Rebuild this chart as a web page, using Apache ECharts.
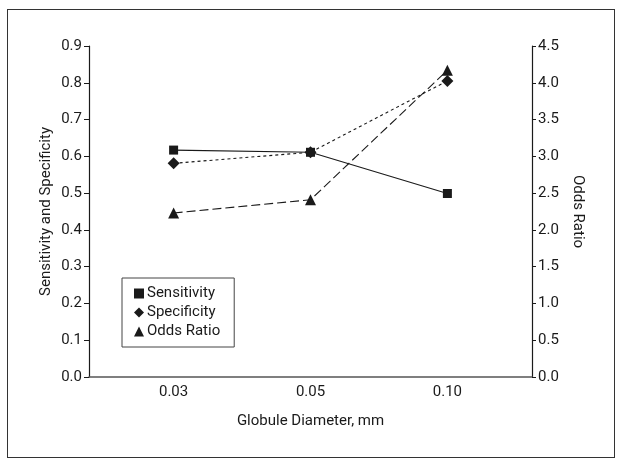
<!DOCTYPE html>
<html><head><meta charset="utf-8">
<script src="https://cdn.jsdelivr.net/npm/echarts@6/dist/echarts.min.js"></script>
<style>html,body{margin:0;padding:0;background:#fff}#c{width:624px;height:466px}
#frame{position:absolute;left:7px;top:9px;width:606px;height:447px;border:1.5px solid #333;pointer-events:none}</style>
</head><body><div id="c"></div><div id="frame"></div>
<script>
const categories = ['0.03', '0.05', '0.10'];
const sensitivity = [0.617, 0.611, 0.499];
const specificity = [0.581, 0.611, 0.805];
const oddsRatio = [2.23, 2.41, 4.17];
const leftTicks = [0, 0.1, 0.2, 0.3, 0.4, 0.5, 0.6, 0.7, 0.8, 0.9];
const rightTicks = [0, 0.5, 1, 1.5, 2, 2.5, 3, 3.5, 4, 4.5];

const FONT = 'Roboto, "Liberation Sans Narrow", sans-serif';
const FS = 15;
const INK = '#1a1a1a';
const idx = categories.map((c, i) => i);
const pts = arr => arr.map((v, i) => [idx[i], v]);

const chart = echarts.init(document.getElementById('c'), null, {renderer: 'canvas'});
chart.setOption({
  animation: false,
  textStyle: {fontFamily: FONT, color: INK},
  grid: {left: 89, right: 92, top: 46, bottom: 89, containLabel: false},
  legend: {
    orient: 'vertical', left: 122, top: 278,
    width: 110,
    padding: [8, 14, 8, 12],
    borderColor: '#444', borderWidth: 1,
    itemWidth: 10, itemHeight: 10, itemGap: 4,
    textStyle: {fontFamily: FONT, fontSize: FS, color: INK, padding: [0, 0, 0, -2]},
    data: [
      {name: 'Sensitivity', icon: 'rect'},
      {name: 'Specificity', icon: 'diamond'},
      {name: 'Odds Ratio', icon: 'triangle'}
    ]
  },
  xAxis: {
    type: 'value', min: -0.618, max: 2.618,
    name: 'Globule Diameter, mm', nameLocation: 'middle', nameGap: 37,
    nameTextStyle: {fontFamily: FONT, fontSize: FS, color: INK},
    axisLine: {show: true, onZero: false, lineStyle: {color: '#555', width: 1.5}},
    axisTick: {show: false},
    splitLine: {show: false},
    axisLabel: {customValues: idx, formatter: v => categories[Math.round(v)], fontSize: FS, color: INK, margin: 8, fontFamily: FONT}
  },
  yAxis: [{
    type: 'value', min: 0, max: 0.9, interval: 0.1, position: 'left',
    name: 'Sensitivity and Specificity', nameLocation: 'middle', nameGap: 35, nameRotate: 90,
    nameMoveOverlap: false,
    nameTextStyle: {fontFamily: FONT, fontSize: FS, color: INK},
    axisLine: {show: true, onZero: false, lineStyle: {color: INK, width: 1.2}},
    axisTick: {show: true, length: 5, lineStyle: {color: INK}},
    splitLine: {show: false},
    axisLabel: {customValues: leftTicks, formatter: v => v.toFixed(1), fontSize: FS, color: INK, margin: 7, fontFamily: FONT}
  }, {
    type: 'value', min: 0, max: 4.5, interval: 0.5, position: 'right',
    name: 'Odds Ratio', nameLocation: 'middle', nameGap: 38, nameRotate: -90,
    nameMoveOverlap: false,
    nameTextStyle: {fontFamily: FONT, fontSize: FS, color: INK},
    axisLine: {show: true, onZero: false, lineStyle: {color: INK, width: 1.2}},
    axisTick: {show: true, length: 4, lineStyle: {color: INK}},
    splitLine: {show: false},
    axisLabel: {customValues: rightTicks, formatter: v => v.toFixed(1), fontSize: FS, color: INK, margin: 6, fontFamily: FONT}
  }],
  series: [{
    name: 'Sensitivity', type: 'line', yAxisIndex: 0, data: pts(sensitivity),
    symbol: 'rect', symbolSize: 9,
    lineStyle: {color: INK, width: 1.1, type: 'solid'},
    itemStyle: {color: INK}
  }, {
    name: 'Specificity', type: 'line', yAxisIndex: 0, data: pts(specificity),
    symbol: 'diamond', symbolSize: 12,
    lineStyle: {color: INK, width: 1.1, type: [3, 3]},
    itemStyle: {color: INK}
  }, {
    name: 'Odds Ratio', type: 'line', yAxisIndex: 1, data: pts(oddsRatio),
    symbol: 'triangle', symbolSize: 11,
    lineStyle: {color: INK, width: 1.1, type: [9, 4]},
    itemStyle: {color: INK}
  }]
});
</script></body></html>
